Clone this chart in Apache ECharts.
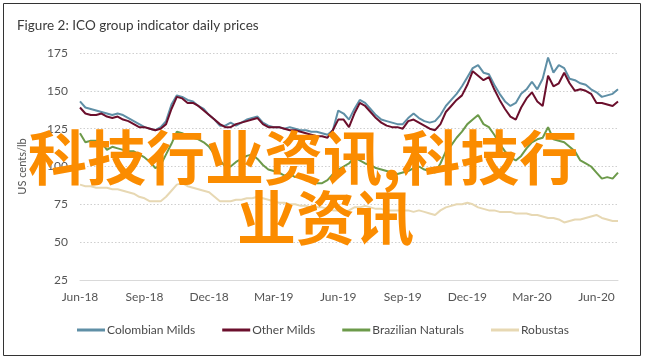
<!DOCTYPE html>
<html>
<head>
<meta charset="utf-8">
<script src="https://cdn.jsdelivr.net/npm/echarts@6/dist/echarts.min.js"></script>
<style>
html,body{margin:0;padding:0;background:#fff;}
#chart{width:646px;height:360px;}
</style>
</head>
<body>
<div id="chart"></div>
<script>
// x positions: months since Jun-2018, sampled roughly weekly
var STEP = 0.25;
var tickLabels = ['Jun-18','Sep-18','Dec-18','Mar-19','Jun-19','Sep-19','Dec-19','Mar-20','Jun-20'];
var seriesNames = ['Colombian Milds','Other Milds','Brazilian Naturals','Robustas'];

var colombianMilds = [143,139,138,137,136,135,134,135,134,132,130,128,126,125,124,126,130,141,147,146,144,143,140,138,134,131,127,127,129,127,129,131,132,133,129,127,126,126,125,126,125,124,124,123,123,122,121,124,137,135,131,138,144,142,138,134,131,130,129,128,128,132,135,132,130,129,130,134,140,144,148,153,159,165,167,162,161,154,148,143,140,142,148,151,156,151,158,172,162,167,165,158,157,155,154,151,149,146,147,148,151];
var otherMilds = [139,135,134,134,135,133,132,133,131,130,128,126,126,125,124,125,128,138,146,145,142,142,140,137,134,131,128,126,126,128,129,130,131,132,128,126,126,126,125,124,124,123,122,121,120,120,119,124,131,131,126,135,142,140,136,132,129,127,126,126,125,130,131,129,127,125,124,128,136,140,144,147,154,163,160,157,159,151,144,138,133,131,139,145,149,143,140,160,153,155,162,155,150,151,150,148,142,142,141,140,143];
var brazilianNaturals = [122,116,117,117,116,111,113,112,111,110,110,108,106,103,99,101,108,115,123,122,120,119,118,116,113,108,104,100,100,103,105,107,108,105,101,98,97,96,94,95,93,93,91,90,89,89,91,95,98,100,102,106,104,102,101,99,98,97,96,95,96,97,99,100,98,97,96,102,110,114,119,123,128,131,134,128,126,121,115,110,106,104,107,112,116,118,119,126,118,117,116,113,110,104,102,100,96,92,93,92,96];
var robustas = [88,87,87,86,86,86,85,85,84,83,82,80,79,77,77,77,80,84,88,89,87,86,85,84,83,80,77,77,77,78,78,79,79,80,79,78,77,76,76,75,75,74,74,73,73,73,72,71,71,70,71,73,73,74,73,72,72,71,71,71,71,71,70,71,70,69,68,71,73,74,75,75,76,75,73,72,71,71,70,70,70,69,69,69,68,68,67,66,66,65,63,64,65,65,66,67,68,66,65,64,64];

var colors = ['#5f8fa6','#6b0f2c','#6c9a4a','#e7d8b3'];

function pairs(vals){
  var out = [];
  for (var i = 0; i < vals.length; i++) out.push([i*STEP, vals[i]]);
  return out;
}

var chart = echarts.init(document.getElementById('chart'), null, {renderer:'canvas'});
var seriesData = [colombianMilds, otherMilds, brazilianNaturals, robustas];
var series = seriesNames.map(function(n, k){
  return {
    name: n, type: 'line', data: pairs(seriesData[k]),
    showSymbol: false, symbol: 'none', smooth: false,
    lineStyle: {color: colors[k], width: 2},
    itemStyle: {color: colors[k]},
    z: 2 + (k === 3 ? 0 : 1),
    animation: false
  };
});

chart.setOption({
  animation: false,
  backgroundColor: '#fff',
  textStyle: {fontFamily: 'Lato'},
  title: {
    text: 'Figure 2: ICO group indicator daily prices',
    left: 12, top: 14,
    textStyle: {fontFamily: 'Lato', fontSize: 13.5, fontWeight: 'normal', color: '#3a3a3a'}
  },
  legend: {
    data: seriesNames,
    left: 'center', top: 319,
    icon: 'rect', itemWidth: 28, itemHeight: 3, itemGap: 27,
    textStyle: {fontFamily: 'Lato', fontSize: 12, color: '#4a4a4a', padding: [0,0,0,-3]}
  },
  grid: {left: 80, right: 28, top: 53, bottom: 80, containLabel: false},
  xAxis: {
    type: 'value', min: 0, max: 25, interval: 3,
    axisLine: {show: true, lineStyle: {color: '#d9d9d9', width: 1}},
    axisTick: {show: false},
    splitLine: {show: false},
    axisLabel: {
      margin: 11, color: '#555', fontSize: 12, fontFamily: 'Lato',
      showMaxLabel: false,
      formatter: function(v){ return (v % 3 === 0) ? (tickLabels[v/3] || '') : ''; }
    }
  },
  yAxis: {
    type: 'value', min: 25, max: 175, interval: 25,
    name: 'US cents/lb', nameLocation: 'middle', nameGap: 52, nameRotate: 90,
    nameTextStyle: {color: '#555', fontSize: 11, fontFamily: 'Lato'},
    axisLine: {show: false}, axisTick: {show: false},
    axisLabel: {margin: 12, color: '#555', fontSize: 12, fontFamily: 'Lato'},
    splitLine: {show: true, lineStyle: {color: '#cfcfcf', type: [1.5, 2], width: 1}}
  },
  series: series,
  graphic: [
    {type: 'rect', shape: {x: 3.5, y: 3.5, width: 637, height: 352}, style: {fill: 'none', stroke: '#333', lineWidth: 1}, z: 100, silent: true},
    {type: 'text', left: 28, top: 128, z: 200, silent: true,
     style: {text: '科技行业资讯,科技行', font: 'bold 59px "Noto Sans CJK SC"', fill: '#fb8c00'}},
    {type: 'text', left: 237, top: 188, z: 200, silent: true,
     style: {text: '业资讯', font: 'bold 59px "Noto Sans CJK SC"', fill: '#fb8c00'}}
  ]
});
</script>
</body>
</html>
